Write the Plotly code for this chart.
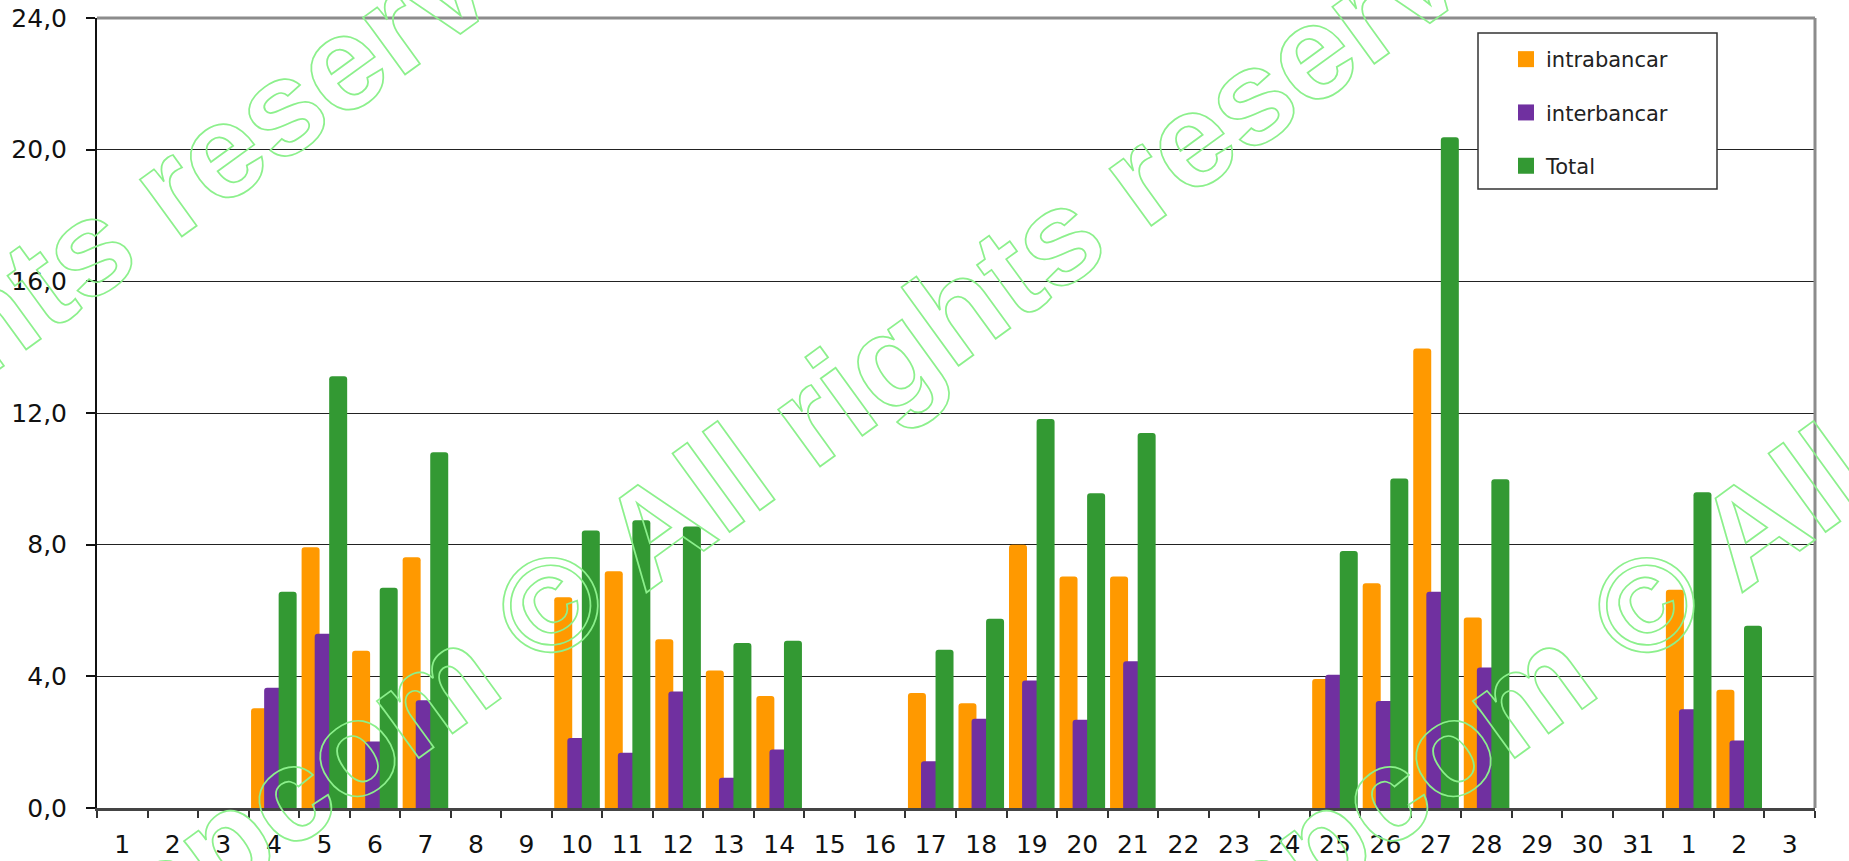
import plotly.graph_objects as go

# ---- data ----
days = [str(d) for d in range(1, 32)] + ["1", "2", "3"]

intrabancar = [None, None, None, 3.03, 7.92, 4.78, 7.62, None, None, 6.40, 7.19, 5.13, 4.18, 3.40,
               None, None, 3.49, 3.18, 8.00, 7.03, 7.03, None, None, None, 3.92, 6.83, 13.96, 5.79,
               None, None, None, 6.63, 3.59, None]
interbancar = [None, None, None, 3.65, 5.29, 2.02, 3.27, None, None, 2.13, 1.68, 3.54, 0.92, 1.78,
               None, None, 1.42, 2.71, 3.87, 2.68, 4.46, None, None, None, 4.05, 3.25, 6.57, 4.27,
               None, None, None, 3.00, 2.05, None]
total = [None, None, None, 6.57, 13.12, 6.69, 10.81, None, None, 8.43, 8.74, 8.55, 5.01, 5.08,
         None, None, 4.81, 5.75, 11.82, 9.56, 11.39, None, None, None, 7.81, 10.01, 20.38, 9.99,
         None, None, None, 9.59, 5.54, None]

series_names = ["intrabancar", "interbancar", "Total"]
series_values = [intrabancar, interbancar, total]
series_colors = ["#FF9900", "#7030A0", "#339933"]
series_offsets = [-0.451, -0.192, 0.095]
bar_width = 0.356

y_ticks = [0, 4, 8, 12, 16, 20, 24]
watermark = "opcom © All rights reserved"

positions = list(range(len(days)))

FONT = "DejaVu Sans, Verdana, sans-serif"

fig = go.Figure()
for name, vals, col, off in zip(series_names, series_values, series_colors, series_offsets):
    fig.add_trace(go.Bar(
        x=positions, y=vals, name=name,
        marker=dict(color=col, line=dict(width=0), cornerradius=3),
        offset=off, width=bar_width,
        showlegend=False,
    ))
# legend entries (larger square swatches)
for name, col in zip(series_names, series_colors):
    fig.add_trace(go.Scatter(
        x=[None], y=[None], mode="markers", name=name,
        marker=dict(symbol="square", size=16, color=col),
        legendgroup=name, showlegend=True,
    ))

L, R, T, B = 97, 34, 18, 53
W, H = 1849, 861
pw, ph = W - L - R, H - T - B


def px2paper(px, py):
    return (px - L) / pw, (H - B - py) / ph


fig.update_layout(
    width=W, height=H,
    margin=dict(l=L, r=R, t=T, b=B, pad=0, autoexpand=False),
    paper_bgcolor="white", plot_bgcolor="white",
    barmode="overlay",
    separators=",.",
    font=dict(family=FONT, size=25, color="#111"),
    showlegend=True,
    legend=dict(
        x=px2paper(1506, 0)[0], y=px2paper(0, 39)[1], xanchor="left", yanchor="top",
        bgcolor="rgba(0,0,0,0)", borderwidth=0,
        font=dict(family=FONT, size=21, color="#222"),
        traceorder="grouped", tracegroupgap=23,
        itemwidth=30,
    ),
)

fig.update_xaxes(
    range=[-0.5, len(days) - 0.5],
    tickmode="array", tickvals=positions, ticktext=days,
    ticks="", showgrid=False, zeroline=False,
    showline=True, linecolor="#444", linewidth=2.5,
    ticklabelstandoff=12, automargin=False,
    tickfont=dict(family=FONT, size=25, color="#111"),
    minor=dict(tickmode="array", tickvals=[p - 0.5 for p in positions] + [len(days) - 0.5],
               ticks="outside", ticklen=7, tickwidth=2, tickcolor="#333", showgrid=False),
    fixedrange=True,
)
fig.update_yaxes(
    range=[0, 24], tickmode="array", tickvals=y_ticks, tickformat=".1f",
    ticks="outside", ticklen=9, tickwidth=1.5, tickcolor="#111",
    showgrid=True, gridcolor="#222", gridwidth=1.3,
    zeroline=False, showline=True, linecolor="#111", linewidth=2,
    ticklabelstandoff=14, automargin=False,
    tickfont=dict(family=FONT, size=25, color="#111"),
    fixedrange=True,
)

# top and right frame lines (grey)
fig.add_shape(type="line", xref="paper", yref="paper", x0=0, x1=1, y0=1, y1=1,
              line=dict(color="#8C8C8C", width=3))
fig.add_shape(type="line", xref="paper", yref="paper", x0=1, x1=1, y0=0, y1=1,
              line=dict(color="#8C8C8C", width=3))

# legend box
bx0, by0 = px2paper(1478, 189)
bx1, by1 = px2paper(1717, 33)
fig.add_shape(type="rect", xref="paper", yref="paper", x0=bx0, x1=bx1, y0=by0, y1=by1,
              line=dict(color="#333", width=1.5), fillcolor="white", layer="above")

# watermark (outlined via post script)
for cx, cy in [(-123, 400), (847, 390), (1943, 390)]:
    ax, ay = px2paper(cx, cy)
    fig.add_annotation(text=watermark, xref="paper", yref="paper", x=ax, y=ay,
                       xanchor="center", yanchor="middle", showarrow=False,
                       textangle=-36,
                       font=dict(family="Liberation Sans, Arial, sans-serif", size=134,
                                 color="#8CF08C", weight="bold"))

post = """
document.body.style.margin = '0';
document.body.style.padding = '0';
document.body.style.overflow = 'hidden';
var gd = document.getElementById('{plot_id}');
gd.querySelectorAll('.annotation-text').forEach(function(t){
  if (t.textContent.indexOf('rights') >= 0) {
    t.style.fill = 'none';
    t.style.stroke = '#8CF08C';
    t.style.strokeWidth = '1.7px';
  }
});
"""

fig.write_html("out.html", post_script=post, config={"displayModeBar": False})
